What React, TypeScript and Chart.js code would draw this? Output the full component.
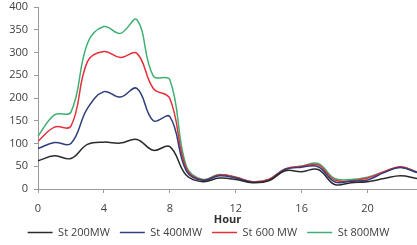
import React, { useEffect, useRef } from "react";
import { Chart, registerables } from "chart.js";

Chart.register(...registerables);

const hours = Array.from({ length: 24 }, (_, i) => String(i));
const st200 = [62, 73, 67, 98, 103, 101, 109, 85, 93, 30, 16, 24, 21, 14, 18, 40, 38, 43, 10, 14, 16, 23, 29, 23];
const st400 = [89, 102, 100, 177, 214, 202, 221, 150, 159, 40, 19, 29, 24, 15, 19, 43, 48, 49, 16, 17, 20, 36, 47, 36];
const st600 = [105, 136, 138, 280, 302, 289, 298, 221, 199, 45, 20, 31, 26, 16, 21, 44, 50, 53, 20, 18, 24, 38, 49, 37];
const st800 = [116, 163, 169, 320, 357, 342, 372, 248, 240, 50, 21, 32, 26, 16, 21, 44, 50, 56, 23, 21, 26, 38, 48, 38];
const seriesNames = ["St 200MW", "St 400MW", "St 600 MW", "St 800MW"];
const seriesColors = ["#2a2a2a", "#2e3d7c", "#e4303a", "#3fb074"];

export default function App() {
  const ref = useRef<HTMLCanvasElement>(null);
  useEffect(() => {
    document.body.style.margin = "0";
    const values = [st200, st400, st600, st800];
    const chart = new Chart(ref.current!, {
      type: "line",
      data: {
        labels: hours,
        datasets: values.map((d, i) => ({
          label: seriesNames[i],
          data: d,
          borderColor: seriesColors[i],
          backgroundColor: seriesColors[i],
          borderWidth: 1.5,
          pointRadius: 0,
          tension: 0.4,
        })),
      },
      options: {
        responsive: false,
        animation: false,
        layout: { padding: { left: 0, right: 0, top: 7, bottom: -3 } },
        font: { family: "'Open Sans'", size: 11 },
        plugins: {
          tooltip: { enabled: false },
          legend: {
            position: "bottom",
            labels: {
              usePointStyle: true,
              pointStyle: "line",
              pointStyleWidth: 25,
              boxHeight: 11,
              padding: 10,
              color: "#404040",
              font: { family: "'Open Sans'", size: 11 },
            },
          },
        },
        scales: {
          x: {
            type: "category",
            offset: false,
            afterFit: (s: any) => {
              s.height = 28;
              s.paddingRight = 0;
              s.paddingLeft = 0;
            },
            grid: {
              drawOnChartArea: false,
              tickLength: 4,
              color: (ctx: any) => (ctx.index % 4 === 0 ? "#9a9a9a" : "rgba(0,0,0,0)"),
            },
            border: { color: "#9a9a9a" },
            ticks: {
              autoSkip: false,
              maxRotation: 0,
              padding: 9,
              color: "#404040",
              font: { family: "'Open Sans'", size: 11 },
              callback: (_v: any, i: number) => (i % 4 === 0 ? hours[i] : ""),
            },
            title: {
              display: true,
              text: "Hour",
              color: "#303030",
              padding: { top: 0, bottom: -9 },
              font: { family: "'Open Sans'", size: 11, weight: "bold" },
            },
          },
          y: {
            min: 0,
            max: 400,
            afterFit: (s: any) => {
              s.width = 38;
              s.paddingTop = 0;
              s.paddingBottom = 0;
            },
            grid: { drawOnChartArea: false, tickLength: 4, color: "#9a9a9a" },
            border: { color: "#9a9a9a" },
            ticks: {
              stepSize: 50,
              padding: 6,
              color: "#404040",
              font: { family: "'Open Sans'", size: 11 },
            },
          },
        },
      },
    });
    return () => chart.destroy();
  }, []);
  return (
    <div style={{ position: "absolute", left: 0, top: 0, width: 417, height: 245 }}>
      <canvas ref={ref} width={417} height={245} />
    </div>
  );
}
